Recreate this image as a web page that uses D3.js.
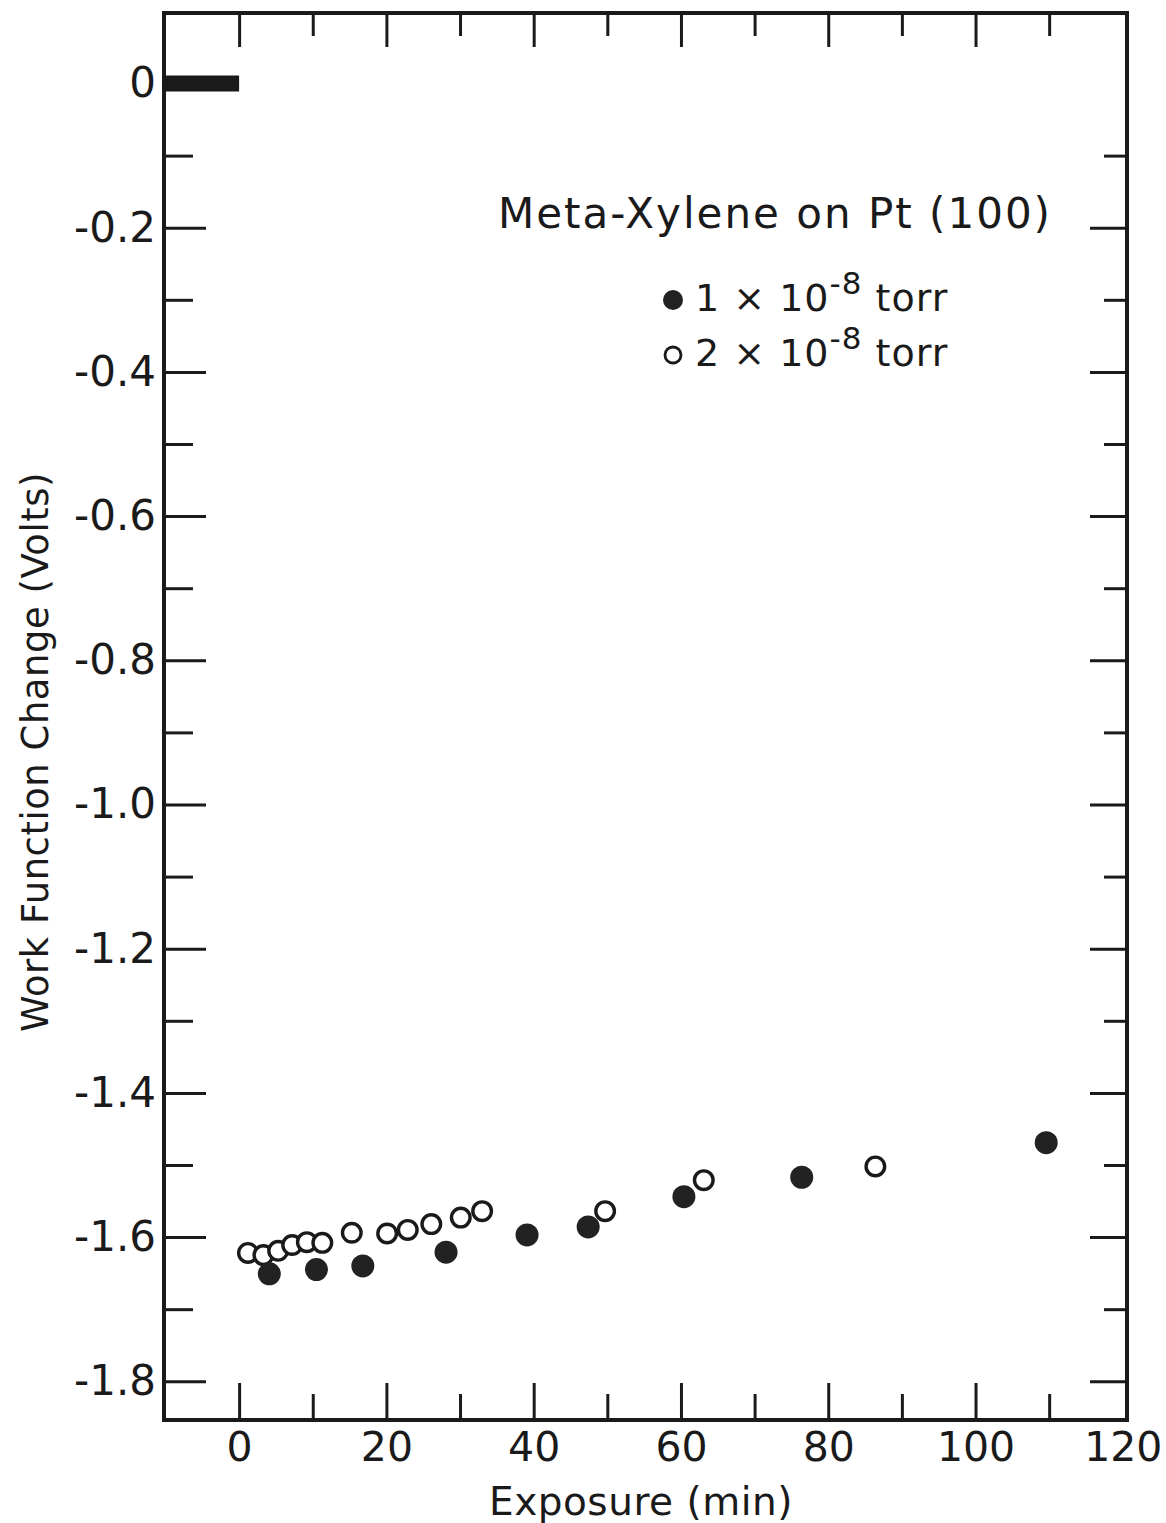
<!DOCTYPE html>
<html>
<head>
<meta charset="utf-8">
<script src="https://cdn.jsdelivr.net/npm/d3@7"></script>
<style>
  html, body { margin: 0; padding: 0; background: #fff; }
  svg { display: block; }
  text { font-family: "DejaVu Sans", "Noto Sans", sans-serif; fill: #1a1a1a; }
</style>
</head>
<body>
<svg id="chart" width="1166" height="1523"></svg>
<script>
// ---- data ----
const series1Label = "1 × 10", series2Label = "2 × 10";
const filledX = [4.1, 10.5, 16.8, 28.1, 39.1, 47.4, 60.4, 76.4, 109.6];
const filledY = [-1.651, -1.645, -1.640, -1.621, -1.597, -1.586, -1.544, -1.517, -1.469];
const openX = [1.2, 3.3, 5.3, 7.2, 9.2, 11.3, 15.3, 20.1, 22.9, 26.1, 30.1, 33.0, 49.7, 63.1, 86.4];
const openY = [-1.622, -1.625, -1.619, -1.611, -1.607, -1.608, -1.594, -1.595, -1.590, -1.582, -1.573, -1.564, -1.564, -1.521, -1.502];
const baselineX = [-10.2, 0];   // pre-exposure work function level
const baselineY = [0, 0];
const xMajorTicks = [0, 20, 40, 60, 80, 100, 120];
const xMinorTicks = [10, 30, 50, 70, 90, 110];
const yMajorTicks = [0, -0.2, -0.4, -0.6, -0.8, -1.0, -1.2, -1.4, -1.6, -1.8];
const yMinorTicks = [-0.1, -0.3, -0.5, -0.7, -0.9, -1.1, -1.3, -1.5, -1.7];
const chartTitle = "Meta-Xylene on Pt (100)";
const xTitle = "Exposure (min)";
const yTitle = "Work Function Change (Volts)";

// ---- layout ----
const L = 164, R = 1127, T = 13, B = 1420;
const svg = d3.select("#chart");
const x = d3.scaleLinear().domain([-10.2, 120.57]).range([L, R]);
const y = d3.scaleLinear().domain([0.0978, -1.8537]).range([T, B]);
const ink = "#1a1a1a";

const yFmt = d => d === 0 ? "0" : "-" + Math.abs(d).toFixed(1);

function styleAxis(g, sw) {
  g.select(".domain").remove();
  g.selectAll(".tick line").attr("stroke", ink).attr("stroke-width", sw);
  g.selectAll(".tick text").attr("fill", ink).attr("font-family", '"DejaVu Sans", sans-serif');
}

// bottom axis (inward ticks)
svg.append("g").attr("transform", `translate(0,${B})`)
  .call(d3.axisBottom(x).tickValues(xMajorTicks.filter(v => v < 120)).tickSize(-37).tickFormat(""))
  .call(g => styleAxis(g, 3));
svg.append("g").attr("transform", `translate(0,${B})`)
  .call(d3.axisBottom(x).tickValues(xMinorTicks).tickSize(-26).tickFormat(""))
  .call(g => styleAxis(g, 3));
// bottom labels
svg.append("g").attr("transform", `translate(0,${B})`)
  .call(d3.axisBottom(x).tickValues(xMajorTicks).tickSize(0).tickPadding(12).tickFormat(d3.format("d")))
  .call(g => { styleAxis(g, 0); g.selectAll(".tick text").attr("font-size", 41); });

// top axis
svg.append("g").attr("transform", `translate(0,${T})`)
  .call(d3.axisTop(x).tickValues(xMajorTicks.filter(v => v < 120)).tickSize(-34).tickFormat(""))
  .call(g => styleAxis(g, 3));
svg.append("g").attr("transform", `translate(0,${T})`)
  .call(d3.axisTop(x).tickValues(xMinorTicks).tickSize(-23).tickFormat(""))
  .call(g => styleAxis(g, 3));

// left axis
svg.append("g").attr("transform", `translate(${L},0)`)
  .call(d3.axisLeft(y).tickValues(yMajorTicks).tickSize(-42).tickPadding(8).tickFormat(yFmt))
  .call(g => { styleAxis(g, 3); g.selectAll(".tick text").attr("font-size", 42); });
svg.append("g").attr("transform", `translate(${L},0)`)
  .call(d3.axisLeft(y).tickValues(yMinorTicks).tickSize(-29).tickFormat(""))
  .call(g => styleAxis(g, 3));

// right axis
svg.append("g").attr("transform", `translate(${R},0)`)
  .call(d3.axisRight(y).tickValues(yMajorTicks.filter(v => v < 0)).tickSize(-37).tickFormat(""))
  .call(g => styleAxis(g, 3));
svg.append("g").attr("transform", `translate(${R},0)`)
  .call(d3.axisRight(y).tickValues(yMinorTicks).tickSize(-23).tickFormat(""))
  .call(g => styleAxis(g, 3));

// frame
svg.append("rect").attr("x", L).attr("y", T).attr("width", R - L).attr("height", B - T)
  .attr("fill", "none").attr("stroke", ink).attr("stroke-width", 4);

// pre-exposure baseline (thick bar)
svg.append("path")
  .datum(baselineX.map((v, i) => [v, baselineY[i]]))
  .attr("d", d3.line().x(d => x(d[0])).y(d => y(d[1])))
  .attr("stroke", ink).attr("stroke-width", 16).attr("fill", "none");

// data points
const open = openX.map((v, i) => ({ x: v, y: openY[i] }));
const filled = filledX.map((v, i) => ({ x: v, y: filledY[i] }));
svg.append("g").selectAll("circle").data(open).join("circle")
  .attr("cx", d => x(d.x)).attr("cy", d => y(d.y)).attr("r", 9.3)
  .attr("fill", "#fff").attr("stroke", ink).attr("stroke-width", 3.4);
svg.append("g").selectAll("circle").data(filled).join("circle")
  .attr("cx", d => x(d.x)).attr("cy", d => y(d.y)).attr("r", 11.5)
  .attr("fill", "#222");

// title
svg.append("text").attr("x", 775).attr("y", 228).attr("text-anchor", "middle")
  .attr("font-size", 42).attr("letter-spacing", 2).text(chartTitle);

// legend
const leg = svg.append("g");
leg.append("circle").attr("cx", 673).attr("cy", 300).attr("r", 10).attr("fill", "#222");
leg.append("circle").attr("cx", 673).attr("cy", 355).attr("r", 8).attr("fill", "#fff")
  .attr("stroke", ink).attr("stroke-width", 2.8);
[[series1Label, 311], [series2Label, 366]].forEach(([lab, yy]) => {
  const t = leg.append("text").attr("x", 695).attr("y", yy).attr("font-size", 38).attr("letter-spacing", 1);
  t.append("tspan").text(lab);
  t.append("tspan").attr("dy", -17).attr("font-size", 31).text("-8");
  t.append("tspan").attr("dy", 17).attr("font-size", 38).text("  torr");
});

// axis titles
svg.append("text").attr("x", 641).attr("y", 1515).attr("text-anchor", "middle")
  .attr("font-size", 39).attr("letter-spacing", 0.5).text(xTitle);
svg.append("text").attr("transform", `translate(48,752) rotate(-90)`).attr("text-anchor", "middle")
  .attr("font-size", 37).attr("letter-spacing", 0.5).text(yTitle);
</script>
</body>
</html>
